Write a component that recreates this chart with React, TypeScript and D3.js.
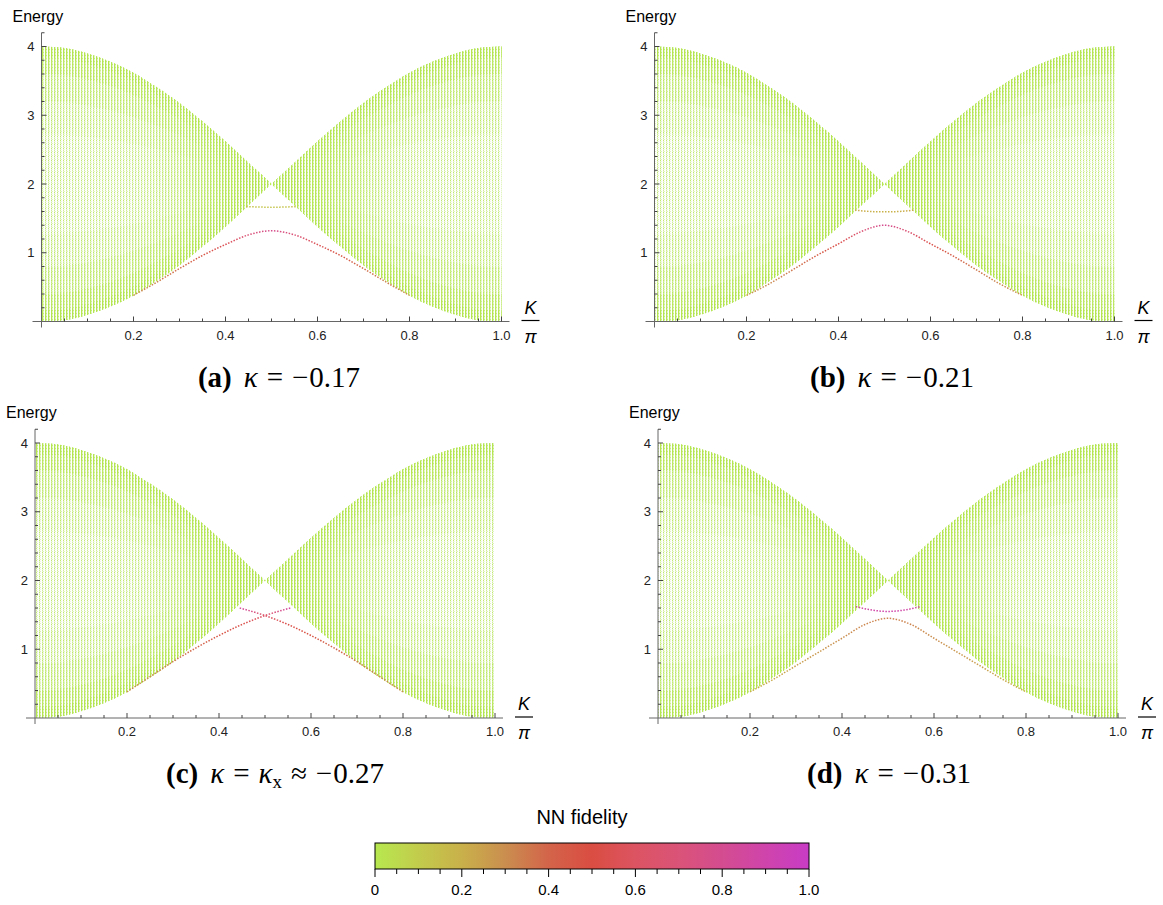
import * as d3 from "d3";

const W = 1163;
const H = 905;

// continuum edges (same in every panel): K/pi and energy
const edgeK = [0, 0.05, 0.1, 0.15, 0.2, 0.25, 0.3, 0.35, 0.4, 0.45, 0.5, 0.55, 0.6, 0.65, 0.7, 0.75, 0.8, 0.85, 0.9, 0.95, 1];
const upperEdge = [4.0, 3.98, 3.9, 3.78, 3.62, 3.41, 3.18, 2.91, 2.62, 2.31, 2.0, 2.31, 2.62, 2.91, 3.18, 3.41, 3.62, 3.78, 3.9, 3.98, 4.0];
const lowerEdge = [0.0, 0.02, 0.1, 0.22, 0.38, 0.59, 0.82, 1.09, 1.38, 1.69, 2.0, 1.69, 1.38, 1.09, 0.82, 0.59, 0.38, 0.22, 0.1, 0.02, 0.0];

const xTicks = [0.2, 0.4, 0.6, 0.8, 1.0];
const yTicks = [1, 2, 3, 4];

// colour bar (NN fidelity)
const fidStops = [0, 0.1, 0.2, 0.3, 0.4, 0.5, 0.6, 0.7, 0.8, 0.9, 1.0];
const fidColors = ["#b7e84f", "#c2cc4c", "#c9b04a", "#ca8e4f", "#d3644a", "#da4d42", "#dc5462", "#da5378", "#d44c90", "#cf44ab", "#c83cc6"];
const barTicks = [0, 0.2, 0.4, 0.6, 0.8, 1.0];
const barLabels = ["0", "0.2", "0.4", "0.6", "0.8", "1.0"];

// (a) kappa = -0.17
const aLowK = [0.2, 0.25, 0.3, 0.35, 0.4, 0.45, 0.5, 0.55, 0.6, 0.65, 0.7, 0.75, 0.8];
const aLowE = [0.38, 0.57, 0.77, 0.96, 1.12, 1.26, 1.32, 1.26, 1.12, 0.96, 0.77, 0.57, 0.38];
const aLowF = [0.3, 0.33, 0.38, 0.46, 0.56, 0.7, 0.78, 0.7, 0.56, 0.46, 0.38, 0.33, 0.3];
const aUpK = [0.445, 0.475, 0.5, 0.525, 0.555];
const aUpE = [1.67, 1.665, 1.66, 1.665, 1.67];
const aUpF = [0.14, 0.13, 0.13, 0.13, 0.14];

// (b) kappa = -0.21
const bLowK = [0.2, 0.25, 0.3, 0.35, 0.4, 0.45, 0.5, 0.55, 0.6, 0.65, 0.7, 0.75, 0.8];
const bLowE = [0.38, 0.55, 0.75, 0.95, 1.13, 1.31, 1.4, 1.31, 1.13, 0.95, 0.75, 0.55, 0.38];
const bLowF = [0.28, 0.31, 0.36, 0.42, 0.52, 0.68, 0.8, 0.68, 0.52, 0.42, 0.36, 0.31, 0.28];
const bUpK = [0.436, 0.47, 0.5, 0.53, 0.564];
const bUpE = [1.62, 1.6, 1.595, 1.6, 1.62];
const bUpF = [0.22, 0.2, 0.19, 0.2, 0.22];

// (c) kappa = kappa_x ~ -0.27
const cDownK = [0.445, 0.5, 0.55, 0.6, 0.65, 0.7, 0.75, 0.8];
const cDownE = [1.6, 1.49, 1.36, 1.2, 1.02, 0.82, 0.6, 0.38];
const cDownF = [0.85, 0.62, 0.52, 0.46, 0.4, 0.36, 0.32, 0.3];
const cUpK = [0.2, 0.25, 0.3, 0.35, 0.4, 0.45, 0.5, 0.555];
const cUpE = [0.38, 0.6, 0.82, 1.02, 1.2, 1.36, 1.49, 1.6];
const cUpF = [0.3, 0.32, 0.36, 0.4, 0.46, 0.52, 0.62, 0.85];

// (d) kappa = -0.31
const dUpK = [0.43, 0.465, 0.5, 0.535, 0.57];
const dUpE = [1.62, 1.57, 1.55, 1.57, 1.62];
const dUpF = [0.85, 0.88, 0.9, 0.88, 0.85];
const dLowK = [0.2, 0.25, 0.3, 0.35, 0.4, 0.45, 0.5, 0.55, 0.6, 0.65, 0.7, 0.75, 0.8];
const dLowE = [0.38, 0.56, 0.76, 0.96, 1.16, 1.36, 1.45, 1.36, 1.16, 0.96, 0.76, 0.56, 0.38];
const dLowF = [0.2, 0.22, 0.25, 0.27, 0.3, 0.32, 0.33, 0.32, 0.3, 0.27, 0.25, 0.22, 0.2];

const captionTags = ["(a)", "(b)", "(c)", "(d)"];
const captionValues = ["0.17", "0.21", "0.27", "0.31"];

const fid = d3.scaleLinear<string>().domain(fidStops).range(fidColors).interpolate(d3.interpolateRgb);

const mk = (k, e, f) => ({ k, e, f });

const panels = [
  { id: "a", x0: 41.5, y0: 321.5, cx: 279, cy: 387, curves: [mk(aLowK, aLowE, aLowF), mk(aUpK, aUpE, aUpF)] },
  { id: "b", x0: 654.5, y0: 321.5, cx: 892, cy: 387, curves: [mk(bLowK, bLowE, bLowF), mk(bUpK, bUpE, bUpF)] },
  { id: "c", x0: 35, y0: 718, cx: 275, cy: 783, curves: [mk(cDownK, cDownE, cDownF), mk(cUpK, cUpE, cUpF)] },
  { id: "d", x0: 658, y0: 718, cx: 889, cy: 783, curves: [mk(dLowK, dLowE, dLowF), mk(dUpK, dUpE, dUpF)] },
];

const SANS = "'Liberation Sans', Arial, sans-serif";
const SERIF = "'Liberation Serif', 'Times New Roman', serif";

// how strongly the near-edge columns are drawn: [fraction of band height, opacity]
const edgeLayers = [
  [0.32, 0.2],
  [0.2, 0.35],
  [0.1, 0.6],
  [0.04, 1],
];

function Panel({ p, idx }) {
  const x = d3.scaleLinear().domain([0, 1]).range([p.x0, p.x0 + 460]);
  const y = d3.scaleLinear().domain([0, 4.2]).range([p.y0, p.y0 - 4.2 * 68.75]);

  const pts = edgeK.map((k, i) => ({ k, lo: lowerEdge[i], hi: upperEdge[i] }));
  const halves = [pts.filter((d) => d.k <= 0.5), pts.filter((d) => d.k >= 0.5)];
  const area = d3.area<any>().x((d) => x(d.k)).y0((d) => y(d.lo)).y1((d) => y(d.hi)).curve(d3.curveMonotoneX);
  const band = halves.map((h) => area(h)).join("");
  const stripHi = (f) =>
    halves.map((h) => d3.area<any>().x((d) => x(d.k)).y0((d) => y(d.hi)).y1((d) => y(d.hi - f * (d.hi - d.lo))).curve(d3.curveMonotoneX)(h)).join("");
  const stripLo = (f) =>
    halves.map((h) => d3.area<any>().x((d) => x(d.k)).y0((d) => y(d.lo)).y1((d) => y(d.lo + f * (d.hi - d.lo))).curve(d3.curveMonotoneX)(h)).join("");

  const line = d3.line<any>().x((d) => x(d.k)).y((d) => y(d.e)).curve(d3.curveMonotoneX);

  const minorX = x.ticks(20).filter((t) => t > 0 && !xTicks.some((m) => Math.abs(m - t) < 1e-6));
  const minorY = y.ticks(21).filter((t) => t > 0 && !yTicks.some((m) => Math.abs(m - t) < 1e-6));
  const x1 = x(1);

  return (
    <g>
      <defs>
        <linearGradient id={`ctr-${p.id}`} gradientUnits="userSpaceOnUse" x1={x(0)} x2={x(1)} y1={0} y2={0}>
          {[[0, 0], [0.15, 0], [0.22, 0.1], [0.28, 0.3], [0.34, 0.6], [0.4, 0.9], [0.44, 1], [0.56, 1], [0.6, 0.9], [0.66, 0.6], [0.72, 0.3], [0.78, 0.1], [0.85, 0], [1, 0]].map(([o, a], i) => (
            <stop key={i} offset={o} stopColor="#fff" stopOpacity={a} />
          ))}
        </linearGradient>
        <mask id={`m-${p.id}`} maskUnits="userSpaceOnUse" x={0} y={0} width={W} height={H}>
          <rect x={x(0)} y={y(4.2)} width={460} height={300} fill={`url(#ctr-${p.id})`} />
        </mask>
        {p.curves.map((c, i) => {
          const k0 = c.k[0];
          const k1 = c.k[c.k.length - 1];
          return (
            <linearGradient key={i} id={`g-${p.id}-${i}`} gradientUnits="userSpaceOnUse" x1={x(k0)} x2={x(k1)} y1={0} y2={0}>
              {c.k.map((k, j) => (
                <stop key={j} offset={(k - k0) / (k1 - k0)} stopColor={fid(c.f[j])} />
              ))}
            </linearGradient>
          );
        })}
      </defs>

      {/* continuum */}
      <path d={band} fill="url(#bandPale)" />
      <path d={band} fill="url(#bandStrong)" mask={`url(#m-${p.id})`} />
      {edgeLayers.map(([f, o], i) => (
        <g key={i}>
          <path d={stripHi(f)} fill="url(#bandStrong)" fillOpacity={o} />
          <path d={stripLo(f)} fill="url(#bandStrong)" fillOpacity={o} />
        </g>
      ))}

      {/* bound states */}
      {p.curves.map((c, i) => (
        <path
          key={i}
          d={line(c.k.map((k, j) => ({ k, e: c.e[j] })))}
          fill="none"
          stroke={`url(#g-${p.id}-${i})`}
          strokeWidth={1.5}
          strokeDasharray="1.5 1.5"
        />
      ))}

      {/* axes */}
      <line x1={x(0) - 9} x2={x1 + 8} y1={p.y0} y2={p.y0} stroke="#666" strokeWidth={1} />
      <line x1={x(0)} x2={x(0)} y1={p.y0 + 6} y2={y(4.2)} stroke="#666" strokeWidth={1} />
      {xTicks.map((t) => (
        <g key={t}>
          <line x1={x(t)} x2={x(t)} y1={p.y0} y2={p.y0 - 5} stroke="#444" />
          <text x={x(t)} y={p.y0 + 18} textAnchor="middle" fontFamily={SANS} fontSize={13} fill="#222">
            {t.toFixed(1)}
          </text>
        </g>
      ))}
      {minorX.map((t) => (
        <line key={t} x1={x(t)} x2={x(t)} y1={p.y0} y2={p.y0 - 3} stroke="#444" />
      ))}
      {yTicks.map((t) => (
        <g key={t}>
          <line x1={x(0)} x2={x(0) + 5} y1={y(t)} y2={y(t)} stroke="#444" />
          <text x={x(0) - 7} y={y(t) + 4.5} textAnchor="end" fontFamily={SANS} fontSize={13} fill="#222">
            {t}
          </text>
        </g>
      ))}
      {minorY.map((t) => (
        <line key={t} x1={x(0)} x2={x(0) + 3} y1={y(t)} y2={y(t)} stroke="#444" />
      ))}

      <text x={x(0) - 29} y={p.y0 - 300} fontFamily={SANS} fontSize={16} fill="#000">
        Energy
      </text>

      <text x={x1 + 29} y={p.y0 - 8} textAnchor="middle" fontFamily={SANS} fontSize={18} fontStyle="italic" fill="#000">
        K
      </text>
      <line x1={x1 + 20} x2={x1 + 38} y1={p.y0 - 1} y2={p.y0 - 1} stroke="#000" strokeWidth={1.2} />
      <text x={x1 + 29} y={p.y0 + 21} textAnchor="middle" fontFamily={SANS} fontSize={18} fontStyle="italic" fill="#000">
        π
      </text>

      <text x={p.cx} y={p.cy} textAnchor="middle" fontFamily={SERIF} fontSize={29} fill="#000">
        <tspan fontWeight="bold">{captionTags[idx]}</tspan>
        <tspan dx={12} fontStyle="italic">κ</tspan>
        <tspan dx={9}>=</tspan>
        {p.id === "c" ? (
          <>
            <tspan dx={9} fontStyle="italic">κ</tspan>
            <tspan dy={5} fontSize={19}>x</tspan>
            <tspan dy={-5} dx={9}>≈</tspan>
          </>
        ) : null}
        <tspan dx={9}>−</tspan>
        <tspan dx={1}>{captionValues[idx]}</tspan>
      </text>
    </g>
  );
}

function ColorBar() {
  const bx = d3.scaleLinear().domain([0, 1]).range([375, 809]);
  const top = 843;
  const h = 26;
  const minor = bx.ticks(20).filter((t) => !barTicks.some((m) => Math.abs(m - t) < 1e-6));
  return (
    <g>
      <defs>
        <linearGradient id="fidGrad" x1={0} x2={1} y1={0} y2={0}>
          {fidStops.map((s, i) => (
            <stop key={i} offset={s} stopColor={fidColors[i]} />
          ))}
        </linearGradient>
      </defs>
      <text x={582} y={824} textAnchor="middle" fontFamily={SANS} fontSize={20} fill="#000">
        NN fidelity
      </text>
      <rect x={bx(0)} y={top} width={bx(1) - bx(0)} height={h} fill="url(#fidGrad)" stroke="#000" strokeWidth={1} />
      {barTicks.map((t, i) => (
        <g key={t}>
          <line x1={bx(t)} x2={bx(t)} y1={top + h} y2={top + h + 8} stroke="#000" />
          <text x={bx(t)} y={895} textAnchor="middle" fontFamily={SANS} fontSize={15} fill="#000">
            {barLabels[i]}
          </text>
        </g>
      ))}
      {minor.map((t) => (
        <line key={t} x1={bx(t)} x2={bx(t)} y1={top + h} y2={top + h + 5} stroke="#000" />
      ))}
    </g>
  );
}

export default function App() {
  return (
    <svg width={W} height={H} viewBox={`0 0 ${W} ${H}`} style={{ position: "absolute", left: 0, top: 0, background: "#fff" }}>
      <defs>
        <pattern id="bandPale" patternUnits="userSpaceOnUse" width={3} height={4}>
          <rect x={0} y={0} width={1} height={4} fill="#e8f6d0" />
          <rect x={0} y={0} width={1} height={1} fill="#c2e872" />
          <rect x={0} y={2} width={1} height={1} fill="#d2ef98" />
          <rect x={1} y={1} width={1} height={1} fill="#eff9e2" />
          <rect x={1} y={3} width={1} height={1} fill="#e0f3bc" />
        </pattern>
        <pattern id="bandStrong" patternUnits="userSpaceOnUse" width={3} height={3}>
          <rect x={0} y={0} width={1} height={3} fill="#b5e651" />
          <rect x={1} y={0} width={1} height={3} fill="#e2f4c4" />
          <rect x={1} y={1} width={1} height={1} fill="#c4eb7c" />
        </pattern>
      </defs>
      <rect x={0} y={0} width={W} height={H} fill="#fff" />
      {panels.map((p, i) => (
        <Panel key={p.id} p={p} idx={i} />
      ))}
      <ColorBar />
    </svg>
  );
}
